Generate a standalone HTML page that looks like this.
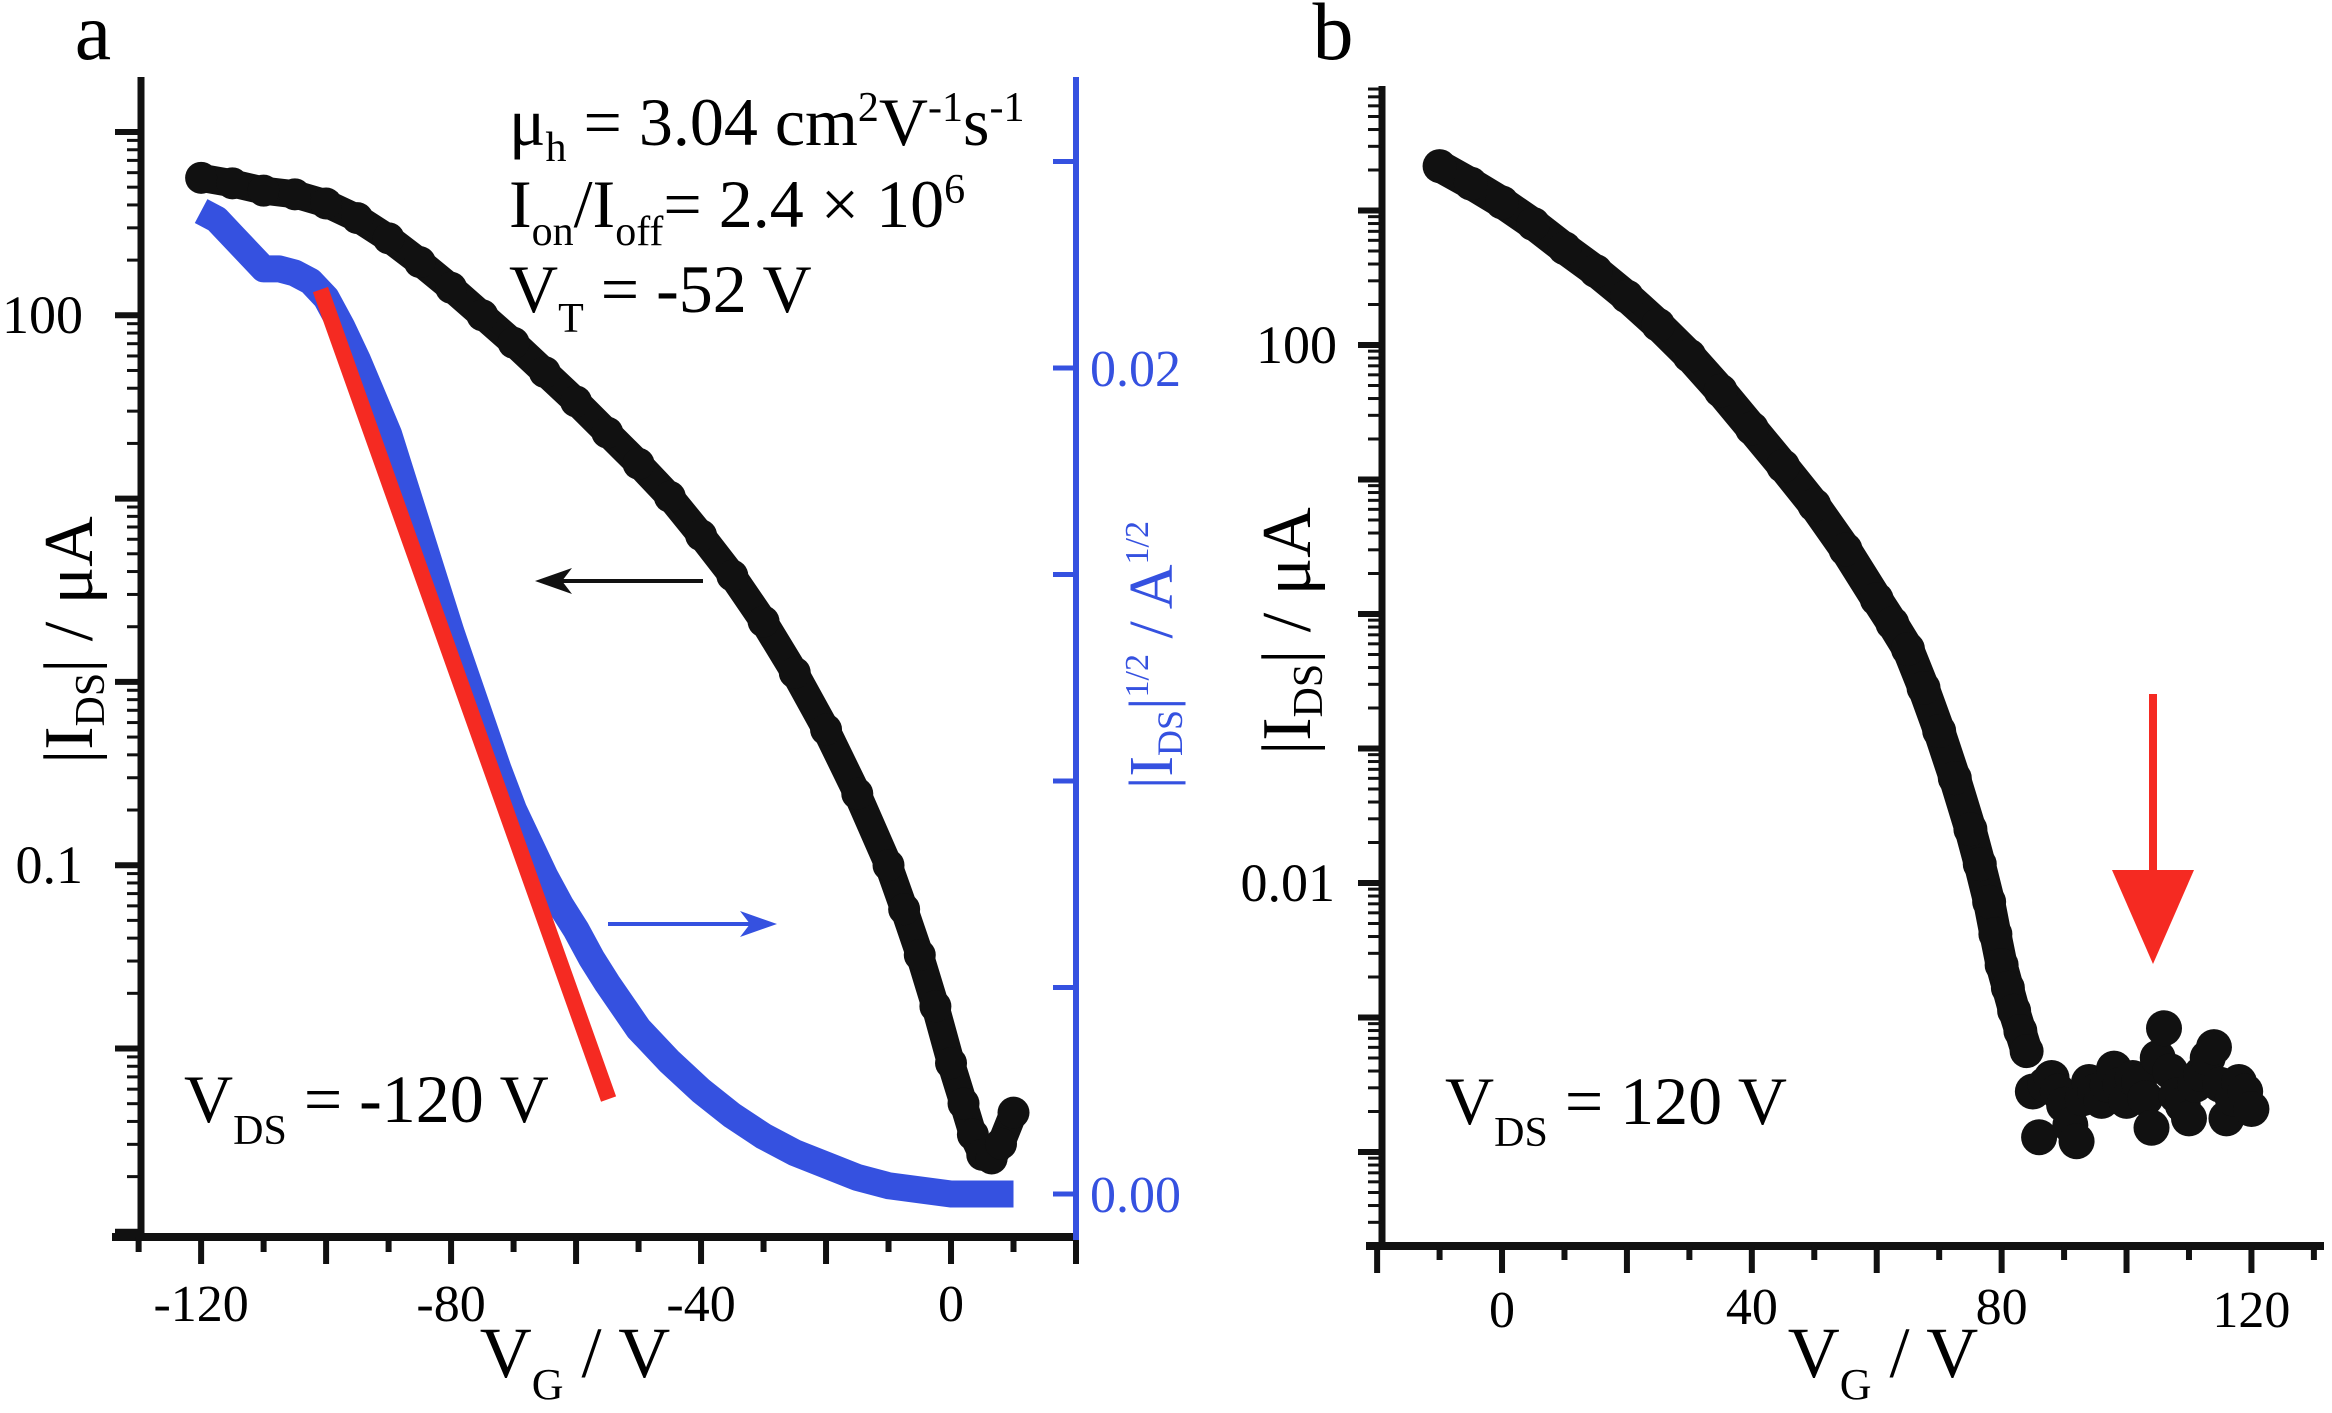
<!DOCTYPE html>
<html><head><meta charset="utf-8"><style>
html,body{margin:0;padding:0;background:#fff;}
svg{display:block;font-family:"Liberation Serif",serif;}
</style></head><body>
<svg id="fig" width="2332" height="1413" viewBox="0 0 2332 1413" xmlns="http://www.w3.org/2000/svg">
<g id="pa"></g>
<g id="pb"></g>
</svg>
<script>
// ---- Panel a data ----
const aVg = [-120,-115,-110,-105,-100,-95,-90,-85,-80,-75,-70,-65,-60,-55,-50,-45,-40,-35,-30,-25,-20,-15,-10,-7.5,-5,-2.5,0,2,3.5,5,6.5,8,10];
const aLogI = [2.75,2.72,2.68,2.66,2.61,2.53,2.42,2.29,2.15,2.00,1.85,1.69,1.53,1.36,1.19,1.01,0.80,0.58,0.33,0.05,-0.26,-0.61,-1.0,-1.24,-1.49,-1.77,-2.08,-2.30,-2.47,-2.58,-2.60,-2.52,-2.35];
const aSqVg = [-120,-117.5,-115,-112.5,-110,-107.5,-105,-102.5,-100,-97.5,-95,-92.5,-90,-87.5,-85,-82.5,-80,-77.5,-75,-72.5,-70,-67.5,-65,-62.5,-60,-57.5,-55,-50,-45,-40,-35,-30,-25,-20,-15,-10,-5,0,5,10];
const aSqI = [0.0238,0.0236,0.0232,0.0228,0.0224,0.0224,0.0223,0.0221,0.0217,0.0210,0.0202,0.0193,0.0184,0.0172,0.0160,0.0148,0.0136,0.0125,0.0114,0.0103,0.0093,0.0085,0.0077,0.0070,0.0064,0.0057,0.0051,0.0040,0.0032,0.0025,0.0019,0.0014,0.0010,0.0007,0.0004,0.0002,0.0001,0.0000,0.0000,0.0000];
const aFitVg = [-100.9,-54.8];
const aFitI = [0.0219,0.0023];
const aXTicks = [-120,-80,-40,0];
const aRightTicks = [0.00,0.02];
// ---- Panel b data ----
const bVg = [-10,-5,0,5,10,15,20,25,30,35,40,45,50,55,60,62.5,65,67.5,70,72.5,75,76.5,78,79,80,81,82,83,84,85,86,87,88,89,90,91,92,93,94,95,96,97,98,99,100,101,102,103,104,105,106,107,108,109,110,111,112,113,114,115,116,117,118,119,120];
const bLogI = [3.33,3.20,3.06,2.90,2.72,2.55,2.36,2.15,1.92,1.66,1.38,1.10,0.81,0.48,0.11,-0.07,-0.26,-0.55,-0.87,-1.22,-1.60,-1.86,-2.14,-2.38,-2.61,-2.78,-2.95,-3.10,-3.25,-3.55,-3.89,-3.50,-3.45,-3.55,-3.65,-3.80,-3.92,-3.60,-3.48,-3.55,-3.62,-3.50,-3.38,-3.50,-3.62,-3.45,-3.48,-3.60,-3.82,-3.30,-3.08,-3.40,-3.58,-3.65,-3.75,-3.50,-3.42,-3.30,-3.22,-3.50,-3.75,-3.60,-3.48,-3.55,-3.68];
const bXTicks = [0,40,80,120];

const NS="http://www.w3.org/2000/svg";
function mk(parent,tag,attrs){const e=document.createElementNS(NS,tag);for(const k in attrs)e.setAttribute(k,attrs[k]);parent.appendChild(e);return e;}

const ax=v=>138+(v-(-130.1))*(1076-138)/(150.1);
const ayLog=d=>132+(3-d)*183.3;
const ayR=v=>1194-v/0.005*206.5;
const bx=v=>1379+(v-(-19.7))*(2322-1379)/(151.0);
const byLog=d=>345+(2-d)*134.5;

const pa=document.getElementById('pa');
const pb=document.getElementById('pb');

// ===== Panel A =====
let d='';aSqVg.forEach((v,i)=>{d+=(i?'L':'M')+ax(v)+','+ayR(aSqI[i]);});
let e=mk(pa,'path',{d:d,fill:'none',stroke:'#3551e0','stroke-width':27,'stroke-linejoin':'round','stroke-linecap':'butt'});


d='';aVg.forEach((v,i)=>{d+=(i?'L':'M')+ax(v)+','+ayLog(aLogI[i]);});
e=mk(pa,'path',{d:d,fill:'none',stroke:'#111','stroke-width':28,'stroke-linejoin':'round','stroke-linecap':'round'});


aVg.forEach((v,i)=>{const c=mk(pa,'circle',{cx:ax(v),cy:ayLog(aLogI[i]),r:16,fill:'#111'});

});
e=mk(pa,'line',{x1:ax(aFitVg[0]),y1:ayR(aFitI[0]),x2:ax(aFitVg[1]),y2:ayR(aFitI[1]),stroke:'#f52a22','stroke-width':16});


e=mk(pa,'g',{});


mk(e,'line',{x1:703,y1:581,x2:545,y2:581,stroke:'#111','stroke-width':4});
mk(e,'path',{d:'M535,581 L572,568 L562,581 L572,594 Z',fill:'#111'});
e=mk(pa,'g',{});


mk(e,'line',{x1:608,y1:924,x2:767,y2:924,stroke:'#3551e0','stroke-width':4});
mk(e,'path',{d:'M777,924 L740,911 L750,924 L740,937 Z',fill:'#3551e0'});

e=mk(pa,'g',{stroke:'#111',fill:'none'});


mk(e,'line',{x1:141,y1:77,x2:141,y2:1240,'stroke-width':7});
for(let dec=-3;dec<=3;dec++){
  const y=ayLog(dec); if(y>=77&&y<=1240) mk(e,'line',{x1:115,y1:y,x2:141,y2:y,'stroke-width':6});
  for(let k=2;k<=9;k++){const yy=ayLog(dec+Math.log10(k)); if(yy>=77&&yy<=1236) mk(e,'line',{x1:127,y1:yy,x2:141,y2:yy,'stroke-width':3});}
}
e=mk(pa,'g',{stroke:'#111'});


mk(e,'line',{x1:112,y1:1237,x2:1078,y2:1237,'stroke-width':8});
for(let v=-130;v<=20;v+=10){const x=ax(v);const long=(v%20===0);mk(e,'line',{x1:x,y1:1237,x2:x,y2:long?1264:1252,'stroke-width':6});}
e=mk(pa,'g',{stroke:'#3551e0'});


mk(e,'line',{x1:1076,y1:77,x2:1076,y2:1240,'stroke-width':6});
for(let v=0;v<=0.0251;v+=0.005){const y=ayR(v);mk(e,'line',{x1:1053,y1:y,x2:1076,y2:y,'stroke-width':5});}

function txt(p,x,y,s,attrs,name,inter){const t=mk(p,'text',Object.assign({x:x,y:y},attrs));t.innerHTML=s;return t;}
aXTicks.forEach(v=>{txt(pa,ax(v),1321,String(v),{'font-size':52,'text-anchor':'middle'},'x-tick-label');});
txt(pa,83,333,'100',{'font-size':54,'text-anchor':'end'},'y-tick-label');
txt(pa,83,883,'0.1',{'font-size':54,'text-anchor':'end'},'y-tick-label');
aRightTicks.forEach(v=>{txt(pa,1090,ayR(v)+18,v.toFixed(2),{'font-size':52,fill:'#3551e0'},'right-tick-label');});
txt(pa,575,1377,'V<tspan font-size="44" dy="22">G</tspan><tspan dy="-22"> / V</tspan>',{'font-size':72,'text-anchor':'middle'},'x-axis-title-a');
txt(pa,0,0,'|I<tspan font-size="42" dy="12">DS</tspan><tspan dy="-12">| / μA</tspan>',{'font-size':70,'text-anchor':'middle',transform:'translate(92,640) rotate(-90)'},'y-axis-title-a');
txt(pa,0,0,'|I<tspan font-size="36" dy="10">DS</tspan><tspan dy="-10">|</tspan><tspan font-size="34" dy="-24">1/2</tspan><tspan dy="24"> / A</tspan><tspan font-size="34" dy="-24">1/2</tspan>',{'font-size':62,'text-anchor':'middle',fill:'#3551e0',transform:'translate(1172,655) rotate(-90)'},'right-y-axis-title');
txt(pa,93,59,'a',{'font-size':82,'text-anchor':'middle'},'panel-label-a');
txt(pa,509,145,'μ<tspan font-size="42" dy="16">h</tspan><tspan dy="-16"> = 3.04 cm</tspan><tspan font-size="42" dy="-24">2</tspan><tspan dy="24">V</tspan><tspan font-size="42" dy="-24">-1</tspan><tspan dy="24">s</tspan><tspan font-size="42" dy="-24">-1</tspan>',{'font-size':68},'mobility-annotation');
txt(pa,509,227,'I<tspan font-size="42" dy="18">on</tspan><tspan dy="-18">/I</tspan><tspan font-size="42" dy="18">off</tspan><tspan dy="-18">= 2.4 × 10</tspan><tspan font-size="42" dy="-24">6</tspan>',{'font-size':68},'on-off-ratio-annotation');
txt(pa,509,312,'V<tspan font-size="42" dy="20">T</tspan><tspan dy="-20"> = -52 V</tspan>',{'font-size':68},'threshold-annotation');
txt(pa,184,1122,'V<tspan font-size="42" dy="22">DS</tspan><tspan dy="-22"> = -120 V</tspan>',{'font-size':68},'vds-label-a');

// ===== Panel B =====
const lineIdx=bVg.map((v,i)=>i).filter(i=>bVg[i]<=84);
d='';lineIdx.forEach((i,k)=>{d+=(k?'L':'M')+bx(bVg[i])+','+byLog(bLogI[i]);});
e=mk(pb,'path',{d:d,fill:'none',stroke:'#111','stroke-width':32,'stroke-linejoin':'round','stroke-linecap':'round'});


bVg.forEach((v,i)=>{const c=mk(pb,'circle',{cx:bx(v),cy:byLog(bLogI[i]),r:v>84?18:17,fill:'#111'});

});
e=mk(pb,'g',{});


mk(e,'line',{x1:2153,y1:694,x2:2153,y2:880,stroke:'#f52a22','stroke-width':8});
mk(e,'path',{d:'M2112,870 L2194,870 L2153,964 Z',fill:'#f52a22'});

e=mk(pb,'g',{stroke:'#111',fill:'none'});


mk(e,'line',{x1:1382,y1:86,x2:1382,y2:1250,'stroke-width':7});
for(let dec=-5;dec<=4;dec++){
  const y=byLog(dec); if(y>=86&&y<=1248) mk(e,'line',{x1:1358,y1:y,x2:1382,y2:y,'stroke-width':6});
  for(let k=2;k<=9;k++){const yy=byLog(dec+Math.log10(k)); if(yy>=86&&yy<=1244) mk(e,'line',{x1:1368,y1:yy,x2:1382,y2:yy,'stroke-width':3});}
}
e=mk(pb,'g',{stroke:'#111'});


mk(e,'line',{x1:1366,y1:1246,x2:2324,y2:1246,'stroke-width':8});
for(let v=-20;v<=130;v+=10){const x=bx(v);const long=(v%20===0);mk(e,'line',{x1:x,y1:1246,x2:x,y2:long?1273:1260,'stroke-width':6});}
bXTicks.forEach(v=>{txt(pb,bx(v),(v===40||v===80)?1324:1327,String(v),{'font-size':52,'text-anchor':'middle'},'x-tick-label-b');});
txt(pb,1337,363,'100',{'font-size':54,'text-anchor':'end'},'y-tick-label-b');
txt(pb,1335,901,'0.01',{'font-size':54,'text-anchor':'end'},'y-tick-label-b');
txt(pb,1883,1377,'V<tspan font-size="44" dy="22">G</tspan><tspan dy="-22"> / V</tspan>',{'font-size':72,'text-anchor':'middle'},'x-axis-title-b');
txt(pb,0,0,'|I<tspan font-size="42" dy="12">DS</tspan><tspan dy="-12">| / μA</tspan>',{'font-size':70,'text-anchor':'middle',transform:'translate(1310,631) rotate(-90)'},'y-axis-title-b');
txt(pb,1333,59,'b',{'font-size':82,'text-anchor':'middle'},'panel-label-b');
txt(pb,1445,1124,'V<tspan font-size="42" dy="22">DS</tspan><tspan dy="-22"> = 120 V</tspan>',{'font-size':68},'vds-label-b');
</script>
</body></html>
